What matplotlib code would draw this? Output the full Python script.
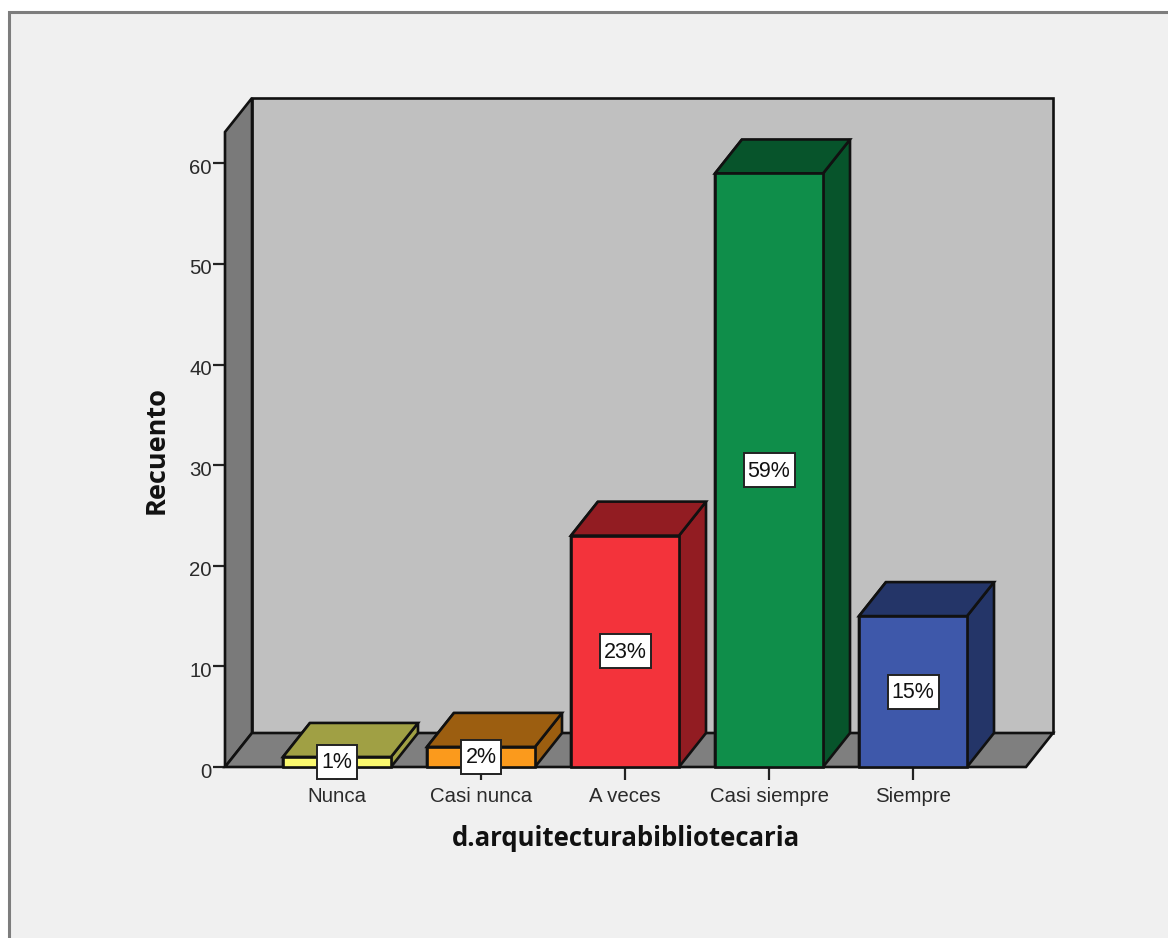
import matplotlib
matplotlib.use("Agg")
import matplotlib.pyplot as plt
from matplotlib.patches import Polygon, Rectangle
from matplotlib.transforms import ScaledTranslation

categories = ["Nunca", "Casi nunca", "A veces", "Casi siempre", "Siempre"]
counts = [1, 2, 23, 59, 15]
labels = ["1%", "2%", "23%", "59%", "15%"]
front_colors = ["#fbf96f", "#fb9a1c", "#f3333b", "#0f8e4a", "#3e58aa"]
side_colors = ["#a0a044", "#9c5e10", "#921c22", "#07542b", "#243568"]
yticks = [0, 10, 20, 30, 40, 50, 60]

W, H = 1168, 938
BG = "#f0f0f0"
EDGE = "#111111"
plt.rcParams["font.family"] = ["Liberation Sans", "DejaVu Sans"]

fig = plt.figure(figsize=(W / 100, H / 100), dpi=100, facecolor="white")
# outer panel
fig.add_artist(Rectangle((9 / W, -0.02), 1.2, 1 - 12 / H + 0.02, transform=fig.transFigure,
                         facecolor=BG, edgecolor="#7d7d7d", linewidth=2.2, zorder=-5))

L, R, B, T = 225, 1026, 767, 132
ax = fig.add_axes([L / W, 1 - B / H, (R - L) / W, (B - T) / H], zorder=2)
ax.patch.set_alpha(0)
PX_X, PX_Y = 144.0, 10.06
ax.set_xlim((L - 337) / PX_X, (R - 337) / PX_X)
ax.set_ylim(0, (B - T) / PX_Y)
x0, x1 = ax.get_xlim()
y0, y1 = ax.get_ylim()
dx, dy = 27 / PX_X, 34 / PX_Y


def poly(pts, fc, z, lw=1.9):
    ax.add_patch(Polygon(pts, closed=True, facecolor=fc, edgecolor=EDGE, linewidth=lw,
                         joinstyle="miter", zorder=z, clip_on=False))


poly([(x0 + dx, y0 + dy), (x1 + dx, y0 + dy), (x1 + dx, y1 + dy), (x0 + dx, y1 + dy)], "#c0c0c0", 1)
poly([(x0, y0), (x0 + dx, y0 + dy), (x0 + dx, y1 + dy), (x0, y1)], "#7a7a7a", 2)
poly([(x0, y0), (x1, y0), (x1 + dx, y0 + dy), (x0 + dx, y0 + dy)], "#7f7f7f", 2)

hw = 54 / PX_X
for i, v in enumerate(counts):
    a, b = i - hw, i + hw
    poly([(a, 0), (a + dx, dy), (a + dx, v + dy), (a, v)], side_colors[i], 3)
    poly([(b, 0), (b + dx, dy), (b + dx, v + dy), (b, v)], side_colors[i], 3)
    poly([(a, v), (b, v), (b + dx, v + dy), (a + dx, v + dy)], side_colors[i], 4)
    poly([(a, 0), (b, 0), (b, v), (a, v)], front_colors[i], 5)
    # label box sized to the label length
    bw = (18 + 11 * len(labels[i])) / PX_X / 2
    bh = 17 / PX_Y
    ax.add_patch(Rectangle((i - bw, v / 2 - bh), 2 * bw, 2 * bh, facecolor="white", edgecolor="#222222",
                           linewidth=1.4, zorder=6, clip_on=False))
    ax.text(i, v / 2 - 1 / PX_Y, labels[i], ha="center", va="center", fontsize=15.5, color="#111111", zorder=7)

for s in ax.spines.values():
    s.set_visible(False)
ax.set_xticks(range(len(categories)), categories)
ax.set_yticks(yticks)
ax.tick_params(axis="both", length=9, width=1.6, color="#222222", labelsize=14.7,
               labelcolor="#2a2a2a", pad=0.5)
ax.tick_params(axis="x", pad=5.5)
ax.set_xlabel("d.arquitecturabibliotecaria", fontsize=18.5, fontweight="bold", color="#111111",
              family=["Open Sans", "DejaVu Sans"])
ax.xaxis.set_label_coords((626 - L) / (R - L), -(838 - B) / (B - T))
ax.xaxis.label.set_va("center")
ax.set_ylabel("Recuento", fontsize=19.5, fontweight="bold", color="#111111",
              family=["Open Sans", "DejaVu Sans"])
ax.yaxis.set_label_coords((157 - L) / (R - L), (B - 450) / (B - T))
ax.yaxis.label.set_va("center")

shift = ScaledTranslation(0, -3 / 100, fig.dpi_scale_trans)
for lab in ax.get_yticklabels():
    lab.set_transform(lab.get_transform() + shift)

fig.savefig("out.png", dpi=100, facecolor="white")
